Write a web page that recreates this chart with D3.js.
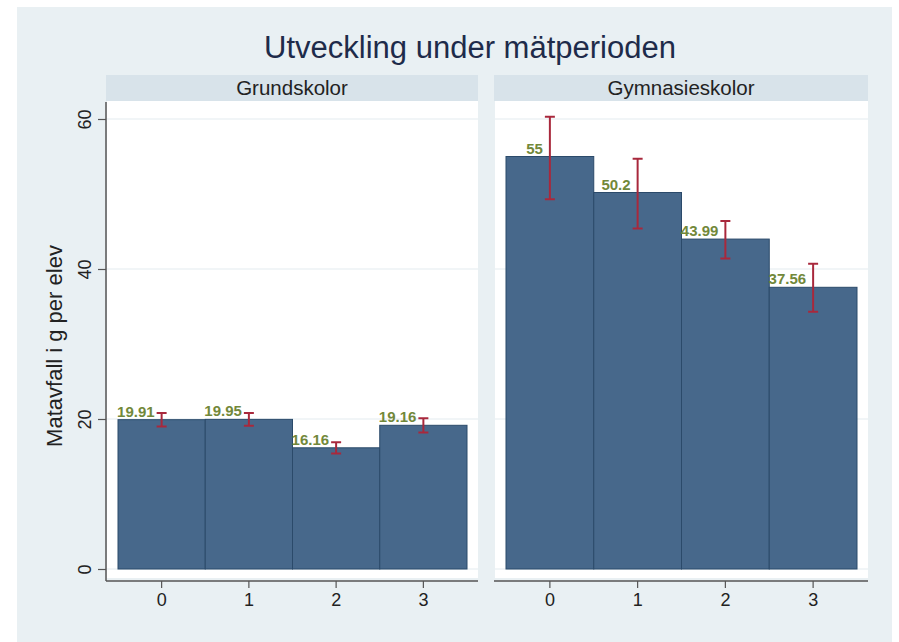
<!DOCTYPE html>
<html>
<head>
<meta charset="utf-8">
<script src="https://cdn.jsdelivr.net/npm/d3@7"></script>
<style>
  html, body { margin: 0; padding: 0; background: #ffffff; }
  svg { display: block; font-family: "Liberation Sans", Arial, sans-serif; }
</style>
</head>
<body>
<svg id="chart" width="899" height="642"></svg>
<script>
// Data: mean food waste per pupil (g) by measurement period, with confidence intervals
const periods = ["0", "1", "2", "3"];
const panelNames = ["Grundskolor", "Gymnasieskolor"];
const grundMeans = [19.91, 19.95, 16.16, 19.16];
const grundLow   = [19.0, 19.1, 15.4, 18.2];
const grundHigh  = [20.8, 20.8, 16.9, 20.1];
const gymMeans   = [55, 50.2, 43.99, 37.56];
const gymLow     = [49.3, 45.4, 41.4, 34.3];
const gymHigh    = [60.3, 54.7, 46.4, 40.7];
const yTicks = [0, 20, 40, 60];
const titleText = "Utveckling under mätperioden";
const yTitle = "Matavfall i g per elev";

const panels = [
  { name: panelNames[0], means: grundMeans, low: grundLow, high: grundHigh, x0: 106, x1: 478 },
  { name: panelNames[1], means: gymMeans, low: gymLow, high: gymHigh, x0: 494, x1: 868 }
];

const svg = d3.select("#chart");
const C = {
  bg: "#e9f0f3", strip: "#d8e3ea", grid: "#e4ebf0", bar: "#47688b", barEdge: "#2b4a6a",
  err: "#a8283c", label: "#72883a", text: "#222222", title: "#1e2b4a", axis: "#555555"
};

// Outer graph region
svg.append("rect").attr("x", 17).attr("y", 7).attr("width", 875).attr("height", 635).attr("fill", C.bg);

svg.append("text")
  .attr("x", 470).attr("y", 58)
  .attr("text-anchor", "middle")
  .attr("font-size", 31).attr("fill", C.title)
  .text(titleText);

const stripTop = 75, stripBottom = 101, plotBottom = 578, axisY = 581;
const y = d3.scaleLinear().domain([0, 60]).range([569, 119]);

panels.forEach((p, pi) => {
  const g = svg.append("g");
  // strip header
  g.append("rect").attr("x", p.x0).attr("y", stripTop).attr("width", p.x1 - p.x0).attr("height", stripBottom - stripTop).attr("fill", C.strip);
  g.append("text").attr("x", (p.x0 + p.x1) / 2).attr("y", 95).attr("text-anchor", "middle")
    .attr("font-size", 20.5).attr("fill", C.text).text(p.name);
  // plot region
  g.append("rect").attr("x", p.x0 + 1).attr("y", stripBottom).attr("width", p.x1 - p.x0 - 1).attr("height", plotBottom - stripBottom).attr("fill", "#ffffff");

  // grid lines
  g.selectAll("line.grid").data(yTicks).join("line")
    .attr("x1", p.x0 + 1).attr("x2", p.x1)
    .attr("y1", d => y(d)).attr("y2", d => y(d))
    .attr("stroke", C.grid).attr("stroke-width", 1.2);

  const x = d3.scaleBand().domain(periods).range([p.x0 + 12, p.x1 - 11]).padding(0);

  // bars
  g.selectAll("rect.bar").data(p.means).join("rect")
    .attr("x", (d, i) => x(periods[i]))
    .attr("y", d => y(d))
    .attr("width", x.bandwidth())
    .attr("height", d => y(0) - y(d))
    .attr("fill", C.bar).attr("stroke", C.barEdge).attr("stroke-width", 1);

  // confidence intervals
  const cx = i => x(periods[i]) + x.bandwidth() / 2;
  p.means.forEach((m, i) => {
    const eg = g.append("g").attr("stroke", C.err).attr("stroke-width", 2);
    eg.append("line").attr("x1", cx(i)).attr("x2", cx(i)).attr("y1", y(p.high[i])).attr("y2", y(p.low[i]));
    eg.append("line").attr("x1", cx(i) - 5).attr("x2", cx(i) + 5).attr("y1", y(p.high[i])).attr("y2", y(p.high[i]));
    eg.append("line").attr("x1", cx(i) - 5).attr("x2", cx(i) + 5).attr("y1", y(p.low[i])).attr("y2", y(p.low[i]));
  });

  // value labels
  g.selectAll("text.val").data(p.means).join("text")
    .attr("x", (d, i) => cx(i) - 7)
    .attr("y", d => y(d) - 3)
    .attr("text-anchor", "end")
    .attr("font-size", 15).attr("font-weight", "bold").attr("fill", C.label)
    .text(d => d);

  // x axis
  const xAxis = d3.axisBottom(x).tickSize(7).tickPadding(5);
  const ax = g.append("g").attr("transform", `translate(0,${axisY})`).call(xAxis);
  ax.select(".domain").attr("d", `M${p.x0},0H${p.x1}`).attr("stroke", C.axis).attr("stroke-width", 1.5);
  ax.selectAll(".tick line").attr("stroke", C.axis).attr("stroke-width", 1.2);
  ax.selectAll(".tick text").attr("font-size", 18).attr("fill", C.text).attr("font-family", "Liberation Sans, Arial, sans-serif");

  // y axis on the first panel only
  if (pi === 0) {
    const yAxis = d3.axisLeft(y).tickValues(yTicks).tickSize(8).tickPadding(0).tickFormat(d3.format("d"));
    const ay = g.append("g").attr("transform", `translate(${p.x0},0)`).call(yAxis);
    ay.select(".domain").attr("d", `M0,${stripBottom + 1}V${axisY}`).attr("stroke", C.axis).attr("stroke-width", 1.5);
    ay.selectAll(".tick line").attr("stroke", C.axis).attr("stroke-width", 1.2);
    ay.selectAll(".tick text")
      .attr("x", null).attr("dy", null)
      .attr("text-anchor", "middle")
      .attr("transform", "translate(-21,0) rotate(-90)")
      .attr("dy", "0.35em")
      .attr("font-size", 18).attr("fill", C.text).attr("font-family", "Liberation Sans, Arial, sans-serif");
  }
});

svg.append("text")
  .attr("transform", "translate(54,346) rotate(-90)")
  .attr("text-anchor", "middle").attr("dy", "0.35em")
  .attr("font-size", 22).attr("fill", C.text)
  .text(yTitle);
</script>
</body>
</html>
